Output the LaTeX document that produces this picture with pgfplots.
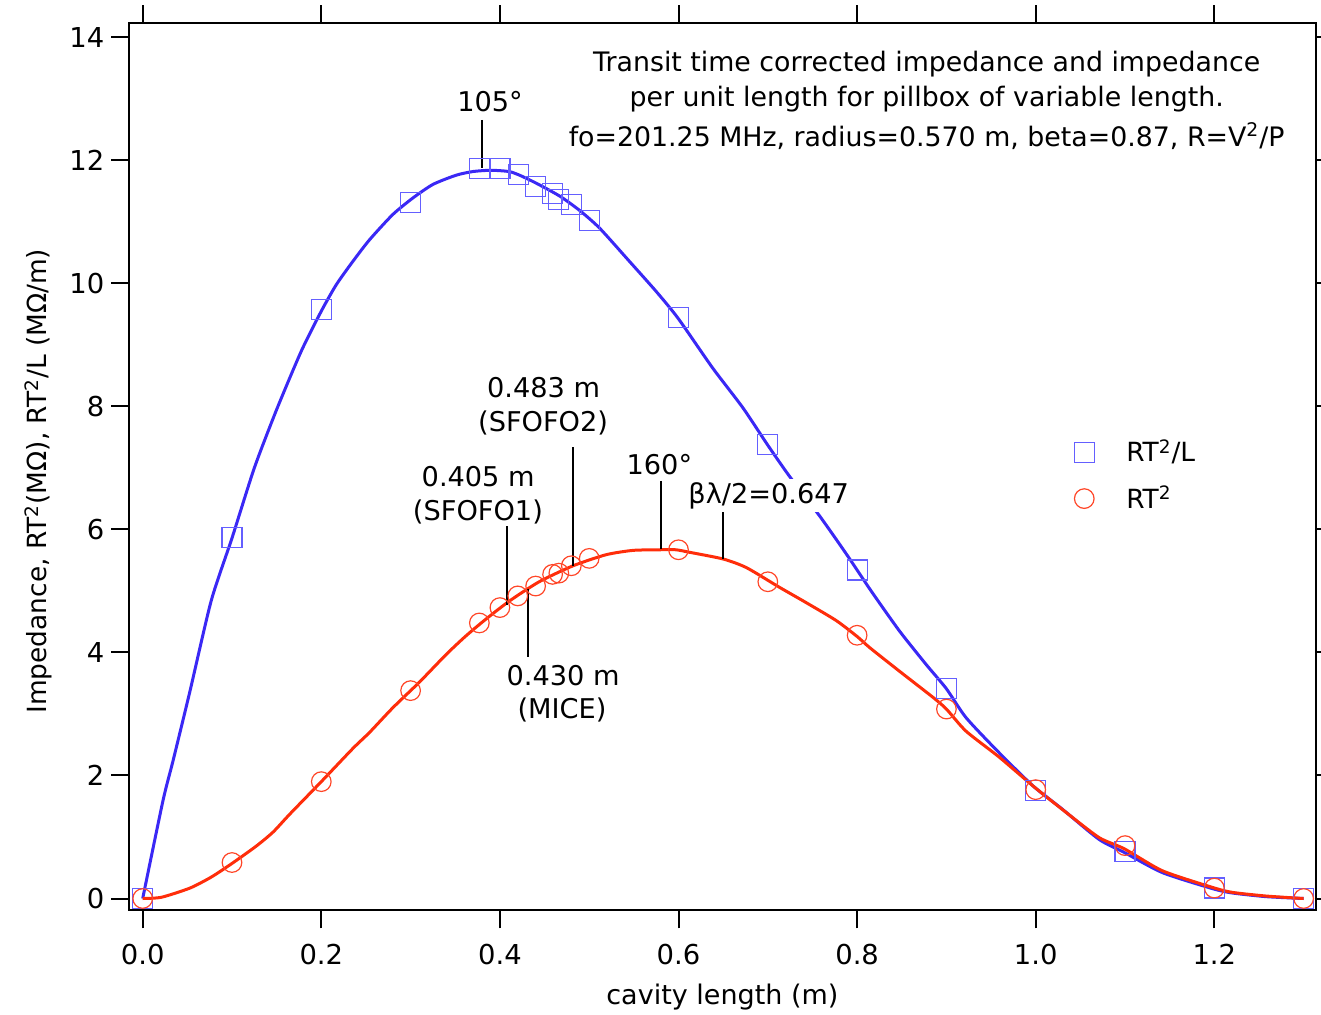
\documentclass[border=0pt]{standalone}
\usepackage{fontspec}
\setmainfont{DejaVu Sans}
\usepackage{pgfplots}
\pgfplotsset{compat=1.18}
\definecolor{bline}{RGB}{58,40,245}
\definecolor{bmark}{RGB}{100,95,255}
\definecolor{rline}{RGB}{255,45,10}
\definecolor{rmark}{RGB}{255,70,40}
\newcommand{\sq}{\textsuperscript{2}}
\newcommand{\ann}{\fontsize{13.6}{15}\selectfont}
\newcommand{\ttl}{\fontsize{13.4}{15}\selectfont}
\begin{document}
\begin{tikzpicture}
\begin{axis}[name=ax, scale only axis, width=593.1pt, height=443.6pt,
 xmin=-0.015, xmax=1.3133, ymin=-0.195, ymax=14.23, clip=false,
 axis line style={line width=1pt},
 tick style={line width=1pt, black},
 tick align=outside, major tick length=9pt,
 xtick={0,0.2,0.4,0.6,0.8,1.0,1.2}, ytick={0,2,4,6,8,10,12,14},
 x tick label style={/pgf/number format/fixed, /pgf/number format/fixed zerofill, /pgf/number format/precision=1, yshift=-4.5pt},
 /pgf/number format/assume math mode=true,
 tick label style={font=\fontsize{13.7}{15}\selectfont},
 xlabel={cavity length (m)}, ylabel={Impedance, RT\sq(MΩ), RT\sq/L (MΩ/m)},
 xlabel style={font=\fontsize{13.5}{15}\selectfont, at={(axis description cs:0.5,-0.1054)}, anchor=base},
 ylabel style={font=\fontsize{13.2}{15}\selectfont, at={(axis description cs:-0.0696,0.484)}, anchor=base},
 legend style={at={(axis cs:1.036,7.60)}, anchor=north west, draw=none, fill=none,
   font=\fontsize{13.2}{15}\selectfont, row sep=6.5pt, /tikz/column 1/.style={column sep=14pt}},
 legend cell align=left,
]
% markers
\addplot[only marks, mark=square, mark size=5pt, mark options={draw=bmark, line width=0.6pt}] coordinates {
(0,0) (0.1,5.87) (0.2,9.57) (0.3,11.31) (0.377,11.87) (0.4,11.87) (0.421,11.77) (0.44,11.57)
(0.459,11.46) (0.466,11.37) (0.48,11.28) (0.5,11.02) (0.6,9.44) (0.7,7.38) (0.8,5.34)
(0.9,3.41) (1.0,1.76) (1.1,0.77) (1.2,0.17) (1.3,0)};
\addlegendentry{RT\sq/L}
\addplot[only marks, mark=o, mark size=4.9pt, mark options={draw=rmark, line width=0.6pt}] coordinates {
(0,0) (0.1,0.585) (0.2,1.9) (0.3,3.38) (0.377,4.48) (0.4,4.73) (0.42,4.92) (0.44,5.08)
(0.459,5.27) (0.466,5.29) (0.48,5.41) (0.5,5.53) (0.6,5.67) (0.7,5.15) (0.8,4.28)
(0.9,3.08) (1.0,1.77) (1.1,0.86) (1.2,0.17) (1.3,0)};
\addlegendentry{RT\sq}
% curves
\addplot[bline, line width=1.5pt, smooth, tension=0.4, forget plot] coordinates {
(0,0) (0.0227,1.59) (0.034,2.24) (0.0526,3.35) (0.0767,4.84) (0.1,5.86) (0.125,7.0)
(0.15,7.95) (0.1776,8.90) (0.2,9.55) (0.2168,9.98) (0.2354,10.36) (0.254,10.71)
(0.28,11.12) (0.3026,11.39) (0.325,11.61) (0.351,11.76) (0.37,11.82) (0.39,11.84)
(0.41,11.82) (0.422,11.76) (0.4407,11.63) (0.467,11.42) (0.489,11.19) (0.5116,10.9)
(0.545,10.36) (0.575,9.87) (0.5997,9.43) (0.638,8.63) (0.672,7.98) (0.7,7.37)
(0.724,6.87) (0.758,6.22) (0.788,5.60) (0.8157,5.0) (0.8474,4.35) (0.877,3.81)
(0.9,3.41) (0.922,2.94) (0.959,2.37) (0.997,1.83) (1.03,1.45) (1.071,0.96)
(1.099,0.75) (1.142,0.42) (1.198,0.16) (1.22,0.09) (1.258,0.03) (1.3,0)};
\addplot[rline, line width=1.5pt, smooth, tension=0.4, forget plot] coordinates {
(0,0) (0.021,0.02) (0.053,0.17) (0.077,0.35) (0.1,0.57) (0.127,0.85) (0.146,1.08)
(0.1646,1.37) (0.2,1.9) (0.2354,2.44) (0.254,2.70) (0.28,3.10) (0.31,3.52) (0.34,3.97)
(0.362,4.27) (0.385,4.55) (0.411,4.84) (0.444,5.15) (0.482,5.41) (0.519,5.59)
(0.549,5.66) (0.579,5.67) (0.597,5.67) (0.612,5.63) (0.65,5.52) (0.676,5.38)
(0.713,5.06) (0.743,4.81) (0.7765,4.52) (0.80,4.26) (0.814,4.08) (0.847,3.70)
(0.885,3.27) (0.9,3.08) (0.922,2.72) (0.959,2.30) (0.9986,1.81) (1.034,1.40)
(1.071,0.99) (1.099,0.81) (1.142,0.45) (1.198,0.18) (1.22,0.10) (1.258,0.04) (1.3,0)};
% title
\node[anchor=base, font=\ttl] at (axis cs:0.8779,13.44) {Transit time corrected impedance and impedance};
\node[anchor=base, font=\ttl] at (axis cs:0.8779,12.88) {per unit length for pillbox of variable length.};
\node[anchor=base, font=\ttl] at (axis cs:0.8779,12.22) {fo=201.25 MHz, radius=0.570 m, beta=0.87, R=V\sq/P};
% annotations
\draw[line width=1pt] (axis cs:0.3803,12.66) -- (axis cs:0.3803,11.87);
\node[anchor=base, font=\ann] at (axis cs:0.389,12.80) {105°};
\draw[line width=1pt] (axis cs:0.4076,6.05) -- (axis cs:0.4076,4.77);
\node[anchor=base, font=\ann] at (axis cs:0.3757,6.70) {0.405 m};
\node[anchor=base, font=\ann] at (axis cs:0.3754,6.15) {(SFOFO1)};
\draw[line width=1pt] (axis cs:0.4822,7.34) -- (axis cs:0.4822,5.40);
\node[anchor=base, font=\ann] at (axis cs:0.4489,8.15) {0.483 m};
\node[anchor=base, font=\ann] at (axis cs:0.4484,7.59) {(SFOFO2)};
\draw[line width=1pt] (axis cs:0.4311,5.04) -- (axis cs:0.4311,3.93);
\node[anchor=base, font=\ann] at (axis cs:0.4708,3.47) {0.430 m};
\node[anchor=base, font=\ann] at (axis cs:0.4696,2.93) {(MICE)};
\draw[line width=1pt] (axis cs:0.5804,6.79) -- (axis cs:0.5804,5.68);
\node[anchor=base, font=\ann] at (axis cs:0.5786,6.89) {160°};
\draw[line width=1pt] (axis cs:0.6495,6.30) -- (axis cs:0.6495,5.52);
\node[anchor=base, font=\ann, fill=white, inner sep=1.5pt] at (axis cs:0.701,6.43) {βλ/2=0.647};
\end{axis}
\pgfresetboundingbox
\path[use as bounding box] ([xshift=-64.65pt,yshift=-52.25pt]ax.south west) rectangle ([xshift=2.75pt,yshift=11.65pt]ax.north east);
\end{tikzpicture}
\end{document}
